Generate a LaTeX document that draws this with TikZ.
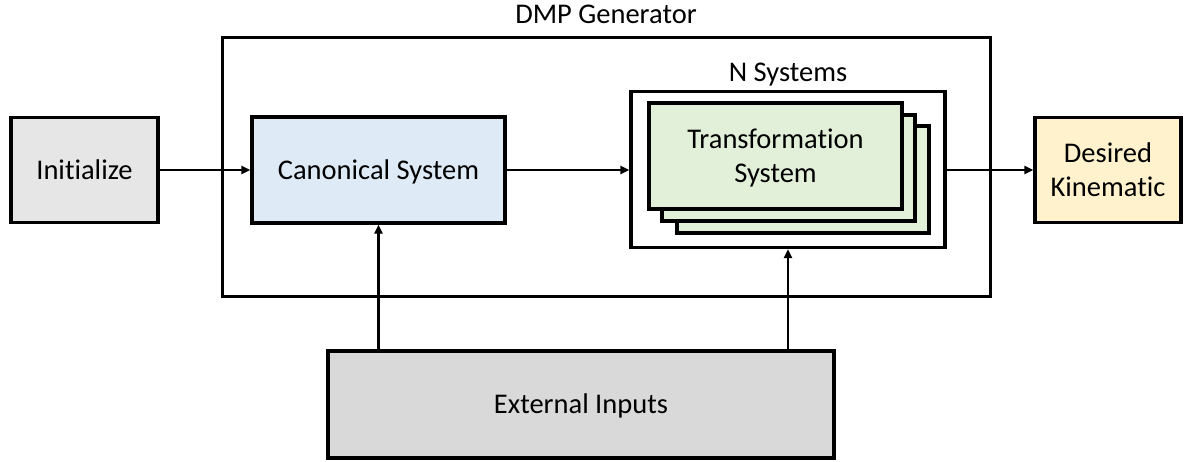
\documentclass[tikz,border=0pt]{standalone}
\usepackage{fontspec}
\setmainfont[Ligatures=NoCommon]{Carlito}
\usetikzlibrary{arrows.meta}
\definecolor{initfill}{RGB}{231,230,230}
\definecolor{extfill}{RGB}{217,217,217}
\definecolor{canonfill}{RGB}{222,235,247}
\definecolor{transfill}{RGB}{226,240,217}
\definecolor{desiredfill}{RGB}{255,242,204}
\tikzset{
  block/.style={draw=black, line width=3.4pt, rectangle, inner sep=0pt,
    font=\fontsize{28.5}{34}\selectfont, text height=18.4pt, text depth=0pt},
  twoline/.style={align=center, text height=52.4pt, text depth=0pt},
  frame/.style={draw=black, line width=3pt, rectangle, inner sep=0pt},
  title/.style={font=\fontsize{28.5}{34}\selectfont, anchor=base, inner sep=0pt},
  flow/.style={line width=2.8pt, -{Triangle[length=9pt,width=8pt]}},
}
\begin{document}
\begin{tikzpicture}[x=1pt, y=-1pt]
  \useasboundingbox (0,0) rectangle (1184,461);

  % generator frame and its title
  \node[frame, minimum width=768pt, minimum height=259pt] (dmp) at (606,166.5) {};
  \node[title] (dmptitle) at (606,23.5) {DMP Generator};

  % outer blocks
  \node[block, fill=initfill, minimum width=147pt, minimum height=105pt] (init) at (84.5,170) {Initialize};
  \node[block, fill=canonfill, minimum width=253pt, minimum height=106pt] (canon) at (378.5,170) {Canonical System};
  \node[block, twoline, fill=desiredfill, minimum width=146pt, minimum height=105pt] (desired) at (1108,170) {Desired\\Kinematic};
  \node[block, fill=extfill, minimum width=506pt, minimum height=107pt] (ext) at (581,404.5) {External Inputs};

  % group of N transformation systems
  \node[block, minimum width=314pt, minimum height=156pt] (nsys) at (788,169.5) {};
  \node[title] (nsystitle) at (788,81) {N Systems};
  \node[block, fill=transfill, minimum width=252pt, minimum height=107pt] (tf3) at (803,179.5) {};
  \node[block, fill=transfill, minimum width=253pt, minimum height=106pt] (tf2) at (788.5,168) {};
  \node[block, twoline, fill=transfill, minimum width=253pt, minimum height=106pt] (tf1) at (775.5,156) {Transformation\\System};

  % signal flow
  \draw[flow] (init.east) -- (canon.west);
  \draw[flow] (canon.east) -- (canon.east -| nsys.west);
  \draw[flow] (nsys.east |- desired.west) -- (desired.west);
  \draw[flow] (canon.south |- ext.north) -- (canon.south);
  \draw[flow] (nsys.south |- ext.north) -- (nsys.south);
\end{tikzpicture}
\end{document}
